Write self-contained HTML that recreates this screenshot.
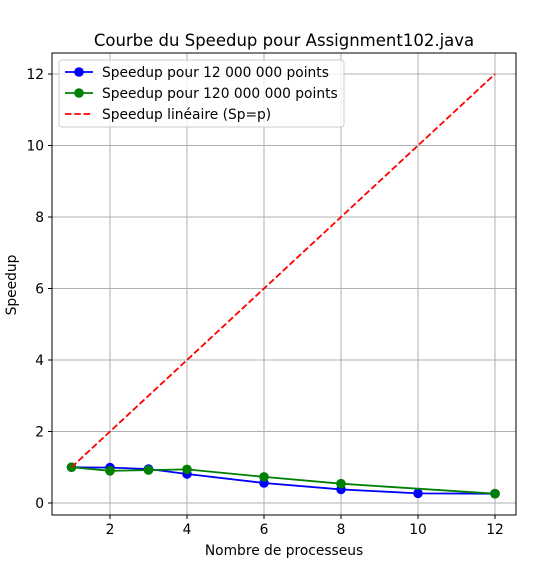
<!DOCTYPE html>
<html><head><meta charset="utf-8"><style>
body{margin:0;background:#fff;}
svg text{font-family:"DejaVu Sans","Liberation Sans",sans-serif;}
</style></head><body>
<svg id="chart" width="536" height="564"></svg>
<script>
const xTicks=[2,4,6,8,10,12];
const yTicks=[0,2,4,6,8,10,12];
const blueX=[1,2,3,4,6,8,10,12];
const blueY=[1.0,0.99,0.95,0.81,0.56,0.38,0.27,0.26];
const greenX=[1,2,3,4,6,8,12];
const greenY=[1.0,0.9,0.92,0.94,0.73,0.54,0.26];
const linX=[1,12];
const linY=[1,12];
const L=52,R=516,T=53,B=515;
const sx=v=>71.5+(v-1)*38.5;
const sy=v=>503-v*35.75;
const svg=document.getElementById('chart');
const NS='http://www.w3.org/2000/svg';
function mk(t,a,p){const e=document.createElementNS(NS,t);for(const k in a)e.setAttribute(k,a[k]);(p||svg).appendChild(e);return e;}
let e;
xTicks.forEach(v=>{
 e=mk('line',{x1:sx(v),x2:sx(v),y1:T,y2:B,stroke:'#b0b0b0','stroke-width':1});
 
 
 mk('line',{x1:sx(v),x2:sx(v),y1:B,y2:B+4,stroke:'#000','stroke-width':1});
 e=mk('text',{x:sx(v),y:B+19,'text-anchor':'middle','font-size':13.8});e.textContent=v;
 
 
});
yTicks.forEach(v=>{
 e=mk('line',{x1:L,x2:R,y1:sy(v),y2:sy(v),stroke:'#b0b0b0','stroke-width':1});
 
 
 mk('line',{x1:L-4,x2:L,y1:sy(v),y2:sy(v),stroke:'#000','stroke-width':1});
 e=mk('text',{x:L-8,y:sy(v)+5,'text-anchor':'end','font-size':13.8});e.textContent=v;
 
 
});
function series(xs,ys,color,name,dash,markers){
 const pts=xs.map((x,i)=>sx(x)+','+sy(ys[i])).join(' ');
 const g=mk('g',{});
 
 
 const a={points:pts,fill:'none',stroke:color,'stroke-width':1.8};
 if(dash)a['stroke-dasharray']=dash;
 mk('polyline',a,g);
 if(markers)xs.forEach((x,i)=>{const c=mk('circle',{cx:sx(x),cy:sy(ys[i]),r:4.8,fill:color},g);
  
  });
}
series(blueX,blueY,'#0000ff','series-12m',null,true);
series(greenX,greenY,'#008000','series-120m',null,true);
series(linX,linY,'#ff0000','linear-speedup','6.5,2.8',false);
e=mk('rect',{x:L,y:T,width:R-L,height:B-T,fill:'none',stroke:'#000','stroke-width':1});


e=mk('text',{x:284,y:46,'text-anchor':'middle','font-size':16.5});e.textContent='Courbe du Speedup pour Assignment102.java';


e=mk('text',{x:284,y:555,'text-anchor':'middle','font-size':13.8});e.textContent='Nombre de processeus';


e=mk('text',{x:16,y:285,'text-anchor':'middle','font-size':13.8,transform:'rotate(-90 16 285)'});e.textContent='Speedup';


const lg=mk('g',{});


mk('rect',{x:59,y:60,width:285,height:67,rx:3,fill:'#fff','fill-opacity':0.8,stroke:'#ccc'},lg);
const items=[['Speedup pour 12 000 000 points','#0000ff',null,true],['Speedup pour 120 000 000 points','#008000',null,true],['Speedup linéaire (Sp=p)','#ff0000','6.5,2.8',false]];
items.forEach((it,i)=>{const y=72+i*21;
 const a={x1:65,x2:93,y1:y,y2:y,stroke:it[1],'stroke-width':1.8};if(it[2])a['stroke-dasharray']=it[2];
 mk('line',a,lg);
 if(it[3])mk('circle',{cx:79,cy:y,r:4.8,fill:it[1]},lg);
 const t=mk('text',{x:102,y:y+5,'font-size':13.8},lg);t.textContent=it[0];
 
 
});
</script>
</body></html>
